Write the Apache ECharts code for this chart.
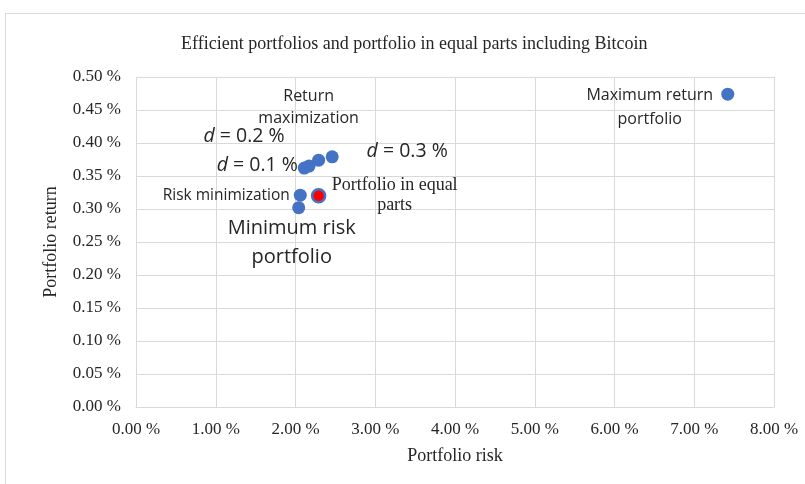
<!DOCTYPE html>
<html>
<head>
<meta charset="utf-8">
<style>
  html, body { margin: 0; padding: 0; background: #fff; }
  #chart { width: 805px; height: 484px; }
</style>
<script src="https://cdn.jsdelivr.net/npm/echarts@6/dist/echarts.min.js"></script>
</head>
<body>
<div id="chart"></div>
<script>
// Efficient portfolios (risk, return in %)
const portfolioNames = [
  'Minimum risk portfolio',
  'Risk minimization',
  'd = 0.1 %',
  'd = 0.2 %',
  'Return maximization',
  'd = 0.3 %',
  'Maximum return portfolio'
];
const portfolioRisk = [2.04, 2.06, 2.11, 2.17, 2.29, 2.46, 7.42];
const portfolioReturn = [0.302, 0.321, 0.362, 0.365, 0.374, 0.379, 0.474];

// Portfolio split in equal parts
const equalName = 'Portfolio in equal parts';
const equalRisk = [2.29];
const equalReturn = [0.320];

// Axis ranges
const xTicks = { min: 0, max: 8, interval: 1 };
const yTicks = { min: 0, max: 0.5, interval: 0.05 };

const sans = '"Open Sans", "Noto Sans", sans-serif';
const serif = '"Liberation Serif", "DejaVu Serif", serif';

// Label placement for each efficient portfolio
const labelStyles = [
  { offset: [-7, 35], fontSize: 20, lineHeight: 29, text: 'Minimum risk\nportfolio' },
  { offset: [-74, 0], fontSize: 15.5, lineHeight: 18, text: 'Risk minimization' },
  { offset: [-47, -3], fontSize: 19.5, lineHeight: 22, text: '{i|d} = 0.1 %' },
  { offset: [-65, -30], fontSize: 19.5, lineHeight: 22, text: '{i|d} = 0.2 %' },
  { offset: [-10, -53], fontSize: 16, lineHeight: 22, text: 'Return\nmaximization' },
  { offset: [75, -5], fontSize: 19.5, lineHeight: 22, text: '{i|d} = 0.3 %' },
  { offset: [-78, 13], fontSize: 16, lineHeight: 24, text: 'Maximum return\nportfolio' }
];

const efficientData = portfolioRisk.map((r, i) => {
  const s = labelStyles[i];
  return {
    name: portfolioNames[i],
    value: [r, portfolioReturn[i]],
    label: {
      show: true,
      position: 'inside',
      offset: s.offset,
      align: 'center',
      verticalAlign: 'middle',
      fontFamily: sans,
      fontSize: s.fontSize,
      lineHeight: s.lineHeight,
      color: '#262626',
      formatter: () => s.text,
      rich: {
        i: { fontStyle: 'italic', fontFamily: sans, fontSize: s.fontSize, color: '#262626' }
      }
    }
  };
});

const equalData = equalRisk.map((r, i) => ({
  name: equalName,
  value: [r, equalReturn[i]],
  label: {
    show: true,
    position: 'inside',
    offset: [76, -1],
    align: 'center',
    verticalAlign: 'middle',
    fontFamily: serif,
    fontSize: 18,
    lineHeight: 20,
    color: '#262626',
    formatter: 'Portfolio in equal\nparts'
  }
}));

const pct = v => v.toFixed(2) + ' %';

const chart = echarts.init(document.getElementById('chart'), null, { renderer: 'canvas' });
chart.setOption({
  animation: false,
  backgroundColor: '#fff',
  title: {
    text: 'Efficient portfolios and portfolio in equal parts including Bitcoin',
    left: 176,
    top: 30,
    textStyle: { fontFamily: serif, fontSize: 18, fontWeight: 'normal', color: '#262626' }
  },
  graphic: [{
    type: 'rect',
    shape: { x: 5.5, y: 13.5, width: 900, height: 600 },
    style: { fill: 'none', stroke: '#d9d9d9', lineWidth: 1 },
    silent: true
  }],
  grid: { left: 136, right: 31, top: 77, bottom: 77, containLabel: false },
  xAxis: {
    type: 'value',
    min: xTicks.min, max: xTicks.max, interval: xTicks.interval,
    name: 'Portfolio risk',
    nameLocation: 'middle',
    nameGap: 40,
    nameTextStyle: { fontFamily: serif, fontSize: 18, color: '#262626' },
    axisLine: { show: true, lineStyle: { color: '#d9d9d9' } },
    axisTick: { show: false },
    splitLine: { show: true, lineStyle: { color: '#d9d9d9' } },
    axisLabel: { formatter: pct, fontFamily: serif, fontSize: 17, color: '#262626', margin: 14 }
  },
  yAxis: {
    type: 'value',
    min: yTicks.min, max: yTicks.max, interval: yTicks.interval,
    name: 'Portfolio return',
    nameLocation: 'middle',
    nameGap: 76,
    nameTextStyle: { fontFamily: serif, fontSize: 18, color: '#262626' },
    axisLine: { show: false },
    axisTick: { show: false },
    splitLine: { show: true, lineStyle: { color: '#d9d9d9' } },
    axisLabel: { formatter: pct, fontFamily: serif, fontSize: 17, color: '#262626', margin: 15 }
  },
  series: [
    {
      name: 'Efficient portfolios',
      type: 'scatter',
      symbolSize: 13,
      itemStyle: { color: '#4472C4', opacity: 1 },
      data: efficientData
    },
    {
      name: equalName,
      type: 'scatter',
      symbolSize: 13,
      itemStyle: { color: '#FF0000', borderColor: '#4472C4', borderWidth: 2.5, opacity: 1 },
      data: equalData
    }
  ]
});
</script>
</body>
</html>
